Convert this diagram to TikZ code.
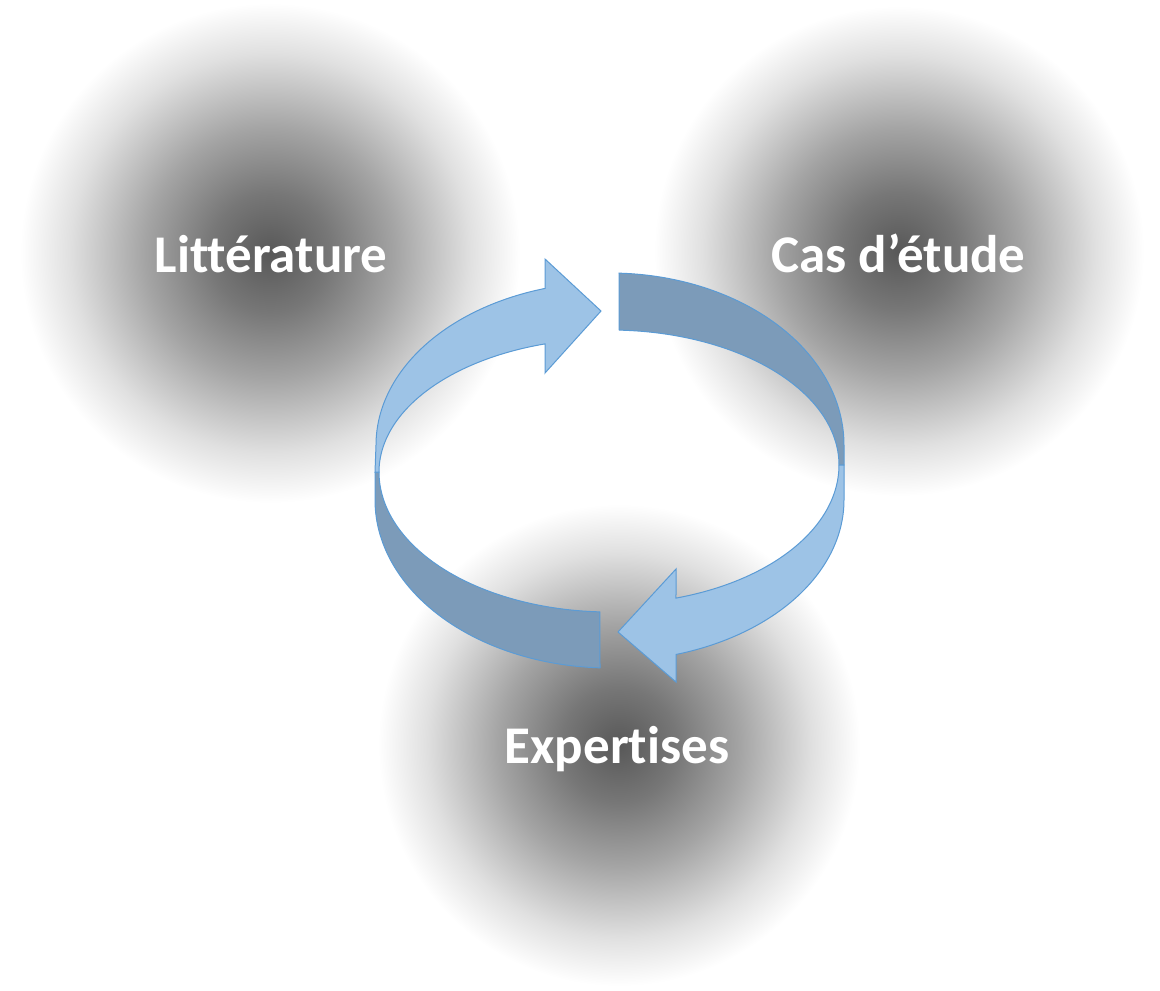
\documentclass[tikz,border=0pt]{standalone}
\usepackage{fontspec}
\setmainfont{Carlito}[Ligatures={NoCommon}]
\definecolor{lightarrow}{RGB}{157,195,230}
\definecolor{darkband}{RGB}{124,155,185}
\definecolor{edgeblue}{RGB}{91,155,213}
\definecolor{sg0}{RGB}{88,88,88}
\definecolor{sg1}{RGB}{119,119,119}
\definecolor{sg2}{RGB}{164,164,164}
\definecolor{sg3}{RGB}{224,224,224}
\pgfdeclareradialshading{softball}{\pgfpoint{0bp}{0bp}}{color(0bp)=(sg0); color(6bp)=(sg1); color(12.5bp)=(sg2); color(20bp)=(sg3); color(25bp)=(white); color(50bp)=(white)}
\tikzset{
  lbl/.style={text=white, font=\fontsize{53}{60}\selectfont\bfseries, anchor=base, inner sep=0pt},
  band/.style={draw=edgeblue, fill=darkband, line width=1pt, line join=round},
  arrowlight/.style={draw=edgeblue, fill=lightarrow, line width=1pt, line join=miter},
}
\begin{document}
\begin{tikzpicture}[x=1pt,y=-1pt]
\fill[white] (0,0) rectangle (1160,991);
\useasboundingbox (0,0) rectangle (1160,991);
% gradient discs
\coordinate (litc) at (270,253);
\coordinate (casc) at (899,251);
\coordinate (expc) at (619,745);
\shade[shading=softball] (litc) circle [radius=250pt];
\shade[shading=softball] (casc) circle [radius=245pt];
\shade[shading=softball] (expc) circle [radius=241pt];
% labels
\node[lbl] (lit) at (271,272) {Littérature};
\node[lbl] (cas) at (898.5,272) {Cas d’étude};
\node[lbl] (exp) at (617,763) {Expertises};
% back bands
\draw[band] (619,273)
  -- plot[domain=87.8:0,samples=60,variable=\t] ({610+234*cos(\t)},{445-172*sin(\t)})
  -- (844,465) -- (839,465)
  -- plot[domain=0:87.7,samples=60,variable=\t] ({610+229*cos(\t)},{465-135*sin(\t)})
  -- cycle;
\draw[band] (600,668)
  -- plot[domain=267.6:180,samples=60,variable=\t] ({610+235*cos(\t)},{500-168*sin(\t)})
  -- (375,472) -- (379,472)
  -- plot[domain=180:267.5,samples=60,variable=\t] ({610+231*cos(\t)},{472-140*sin(\t)})
  -- cycle;
% front arrows
\draw[arrowlight] (839,465) -- (844,465) -- (844,500)
  -- plot[domain=0:-73.6,samples=60,variable=\t] ({610+234*cos(\t)},{500-161*sin(\t)})
  -- (676,682) -- (618,632) -- (676,569)
  -- plot[domain=-73.25:0,samples=60,variable=\t] ({610+229*cos(\t)},{465-139*sin(\t)})
  -- cycle;
\draw[arrowlight] (379,472) -- (375,472) -- (376,445)
  -- plot[domain=180:106.1,samples=60,variable=\t] ({610+234*cos(\t)},{445-163*sin(\t)})
  -- (545,259) -- (601,311) -- (545,373)
  -- plot[domain=106.3:180,samples=60,variable=\t] ({610+231*cos(\t)},{472-133.5*sin(\t)})
  -- cycle;
\end{tikzpicture}
\end{document}
